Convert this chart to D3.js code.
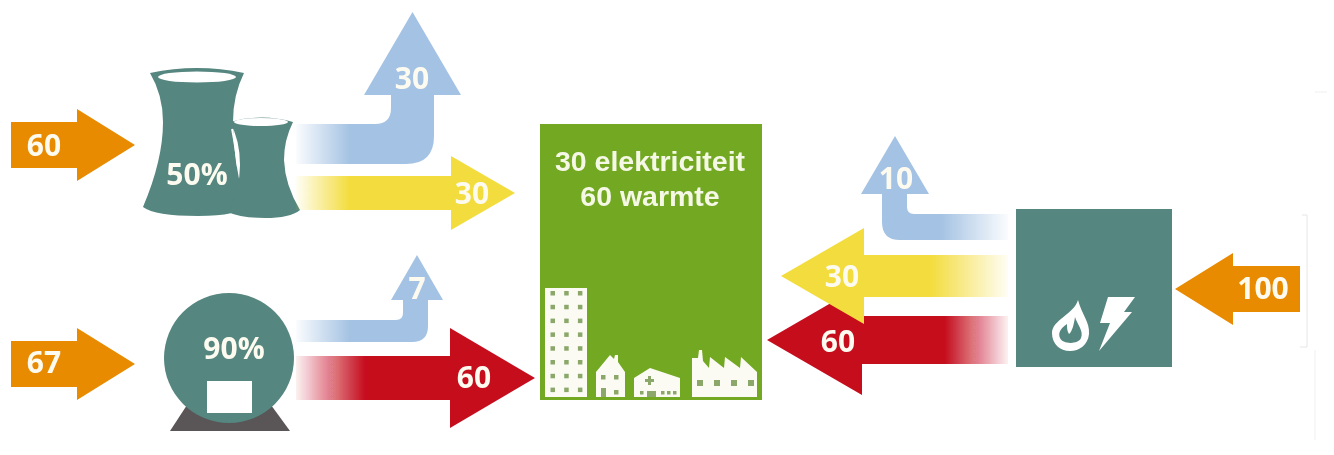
<!DOCTYPE html>
<html><head><meta charset="utf-8">
<script src="https://cdn.jsdelivr.net/npm/d3@7/dist/d3.min.js"></script>
<style>html,body{margin:0;padding:0;background:#fff;overflow:hidden}svg{display:block}</style>
</head><body><svg id="c" width="1334" height="455"></svg>
<script>
// ---- data ----
const inputValues = [60, 67, 100];
const coalFlows = [30, 30];       // loss, electricity
const nuclearFlows = [7, 60];     // loss, heat
const plantFlows = [10, 30, 60];  // loss, electricity, heat
const efficiencies = ["50%", "90%"];
const demandLines = ["30 elektriciteit", "60 warmte"];

// ---- styles ----
const C = {orange:"#e98b00", blue:"#a4c2e3", yellow:"#f3dc3c", red:"#c50c1f", teal:"#55867f", green:"#72a824", dark:"#5a5556"};
const font = "'Open Sans',sans-serif";
const svg = d3.select("#c");
const defs = svg.append("defs");
defs.append("filter").attr("id","soft").attr("x",0).attr("y",0).attr("width","100%").attr("height","100%")
  .attr("filterUnits","userSpaceOnUse").attr("x",0).attr("y",0).attr("width",1334).attr("height",455)
  .append("feGaussianBlur").attr("stdDeviation",0.6);
const root = svg.append("g").attr("filter","url(#soft)");

function fade(id, color, x1, x2){
  const g = defs.append("linearGradient").attr("id",id).attr("gradientUnits","userSpaceOnUse")
    .attr("x1",x1).attr("x2",x2).attr("y1",0).attr("y2",0);
  g.append("stop").attr("offset",0).attr("stop-color",color).attr("stop-opacity",0.05);
  g.append("stop").attr("offset",1).attr("stop-color",color).attr("stop-opacity",1);
  return `url(#${id})`;
}
const line = d3.line();
function straight(o){ // horizontal arrow: tail, base, tip, y, half body, half head
  const {tail,base,tip,y,hb,hh} = o;
  return line([[tail,y-hb],[base,y-hb],[base,y-hh],[tip,y],[base,y+hh],[base,y+hb],[tail,y+hb]])+"Z";
}
function bent(o){ // arrow that leaves horizontally and turns upward
  const {start,yTop,yBot,inner,outer,base,hl,hr,tip,rIn,rOut} = o;
  const dir = outer>inner?1:-1;
  const p = d3.path();
  p.moveTo(start,yTop);
  p.lineTo(inner-dir*rIn,yTop);
  p.quadraticCurveTo(inner,yTop,inner,yTop-rIn);
  p.lineTo(inner,base);
  p.lineTo(dir>0?hl:hr,base);
  p.lineTo((hl+hr)/2,tip);
  p.lineTo(dir>0?hr:hl,base);
  p.lineTo(outer,base);
  p.lineTo(outer,yBot-rOut);
  p.quadraticCurveTo(outer,yBot,outer-dir*rOut,yBot);
  p.lineTo(start,yBot);
  p.closePath();
  return p.toString();
}
function label(x,y,t,size,fill){
  root.append("text").attr("x",x).attr("y",y).attr("text-anchor","middle").attr("dominant-baseline","central")
    .attr("font-family",font).attr("font-weight",700).attr("font-size",size||30).attr("fill",fill||"#fdfbf0").text(t);
}

// ---- input arrows ----
const inputShapes = [
  {tail:11,base:77,tip:135,y:145,hb:23,hh:36,lx:44,ly:144},
  {tail:11,base:77,tip:135,y:364,hb:23,hh:36,lx:44,ly:361},
  {tail:1300,base:1233,tip:1175,y:289,hb:23,hh:36,lx:1263,ly:287}
];
inputShapes.forEach((s,i)=>root.append("path").attr("d",straight(s)).attr("fill",C.orange));

// ---- cooling towers ----
root.append("path").attr("fill",C.teal).attr("d",
 "M150,73 Q197,63 244,73 Q233,95 233,122 Q233,160 245,205 Q240,216 198,216 Q155,216 143,207 Q163,160 163,122 Q163,95 150,73Z");
root.append("ellipse").attr("cx",197).attr("cy",77).attr("rx",39).attr("ry",5.5).attr("fill","#fff");
root.append("path").attr("fill",C.teal).attr("d",
 "M230,122 Q262,113 293,122 Q284,140 284,160 Q285,185 300,210 Q290,218 265,218 Q240,218 228,212 Q240,190 240,165 Q240,140 230,122Z");
root.append("path").attr("fill","none").attr("stroke","#fff").attr("stroke-width",1.8).attr("d","M232,129 Q236,150 238,168");
root.append("ellipse").attr("cx",261).attr("cy",122).attr("rx",27).attr("ry",4).attr("fill","#fff");

// ---- reactor ----
root.append("path").attr("fill",C.dark).attr("d","M187,405 L271,405 L290,431 L170,431Z");
root.append("circle").attr("cx",229).attr("cy",358).attr("r",65).attr("fill",C.teal);
root.append("rect").attr("x",207).attr("y",381).attr("width",45).attr("height",32).attr("fill","#fff");

// ---- flows from the left-hand plants ----
root.append("path").attr("fill",fade("b1",C.blue,296,350)).attr("d",
  bent({start:296,yTop:124,yBot:164,inner:391,outer:434,base:95,hl:364,hr:461,tip:12,rIn:16,rOut:28}));
root.append("path").attr("fill",fade("y1",C.yellow,296,350)).attr("d",
  straight({tail:296,base:451,tip:515,y:193,hb:17,hh:37}));
root.append("path").attr("fill",fade("b2",C.blue,296,350)).attr("d",
  bent({start:296,yTop:320,yBot:342,inner:403,outer:428,base:300,hl:391,hr:443,tip:255,rIn:7,rOut:16}));
root.append("path").attr("fill",fade("r1",C.red,296,365)).attr("d",
  straight({tail:296,base:450,tip:535,y:378,hb:22,hh:50}));

// ---- demand block ----
root.append("rect").attr("x",540).attr("y",124).attr("width",222).attr("height",276).attr("fill",C.green);
demandLines.forEach((t,i)=>root.append("text").attr("x",650).attr("y",171+i*35).attr("text-anchor","middle")
  .attr("font-family","'Liberation Sans',Arial,sans-serif").attr("font-weight",700).attr("font-size",28.5).attr("fill","#f6f8e6").text(t));

// buildings
const W = "#fbfbf4", WIN = "#8ba86a";
const bld = root.append("g");
bld.append("rect").attr("x",545).attr("y",288).attr("width",42).attr("height",109).attr("fill",W);
d3.range(8).forEach(r=>d3.range(3).forEach(c=>bld.append("rect")
  .attr("x",550.5+c*13.7).attr("y",291+r*13.8).attr("width",4.5).attr("height",4.5).attr("fill",WIN)));
bld.append("path").attr("fill",W).attr("d","M596,372 L610,355 L614,359 L615,355 L618,355 L618,362 L625,372 L625,397 L596,397Z");
[[601,375],[614,375],[614,390]].forEach(p=>bld.append("rect").attr("x",p[0]).attr("y",p[1]).attr("width",4.5).attr("height",4.5).attr("fill",WIN));
bld.append("rect").attr("x",601).attr("y",388).attr("width",5).attr("height",9).attr("fill",WIN);
bld.append("path").attr("fill",W).attr("d","M634,378 L650,368 L680,378 L680,397 L634,397Z");
bld.append("path").attr("fill",WIN).attr("d","M648,376h3v3h3v3h-3v3h-3v-3h-3v-3h3Z");
[[640,391],[661,391],[667,391],[673,391]].forEach(p=>bld.append("rect").attr("x",p[0]).attr("y",p[1]).attr("width",3.5).attr("height",3.5).attr("fill",WIN));
bld.append("rect").attr("x",647).attr("y",391).attr("width",9).attr("height",6).attr("fill",WIN);
bld.append("path").attr("fill",W).attr("d","M692,358 L698,358 L699,350 L702,350 L703,361 L709,368 L710,357 L724,368 L725,357 L740,368 L741,357 L757,372 L757,397 L692,397Z");
d3.range(4).forEach(i=>bld.append("rect").attr("x",697+i*17).attr("y",380).attr("width",6).attr("height",6).attr("fill",WIN));

// ---- flows from the right-hand plant (heat below, electricity over it) ----
root.append("path").attr("fill",fade("r2",C.red,1008,945)).attr("d",
  straight({tail:1008,base:862,tip:767,y:340,hb:24,hh:55}));
root.append("path").attr("fill",fade("y2",C.yellow,1008,930)).attr("d",
  straight({tail:1008,base:864,tip:781,y:276,hb:21,hh:48}));
root.append("path").attr("fill",fade("b3",C.blue,1008,940)).attr("d",
  bent({start:1008,yTop:214,yBot:240,inner:907,outer:882,base:194,hl:861,hr:929,tip:136,rIn:7,rOut:18}));

// ---- plant block ----
root.append("rect").attr("x",1016).attr("y",209).attr("width",156).attr("height",158).attr("fill",C.teal);
root.append("path").attr("fill","#fff").attr("fill-rule","evenodd").attr("d",
 "M1078,300 C1082,315 1090,322 1089,334 C1088,345 1079,351 1070,351 C1060,351 1052,344 1052,333 C1052,320 1074,314 1078,300Z "+
 "M1067,324 C1060,329 1058,333 1060,338 C1062,344 1078,345 1081,338 C1084,331 1077,324 1075,317 C1074,324 1072,332 1069,334 C1067,331 1067,328 1067,324Z");
root.append("path").attr("fill","#fff").attr("d","M1108,297 L1135,297 L1124,312 L1132,312 L1099,351 L1110,323 L1100,323Z");

// ---- value labels ----
inputValues.forEach((v,i)=>label(inputShapes[i].lx,inputShapes[i].ly,v));
label(412,77,coalFlows[0]);
label(472,192,coalFlows[1]);
label(417,287,nuclearFlows[0]);
label(474,376,nuclearFlows[1]);
label(896,177,plantFlows[0]);
label(842,275,plantFlows[1]);
label(838,340,plantFlows[2]);
label(197,173,efficiencies[0]);
label(234,347,efficiencies[1]);

// ---- faint scan artefacts at the right edge ----
root.append("path").attr("fill","none").attr("stroke","#e6e6e6").attr("d","M1302,215 H1307 V347 H1300");
root.append("path").attr("fill","none").attr("stroke","#f0f0f0").attr("d","M1315,92 H1327 M1315,440 V350");
</script></body></html>
